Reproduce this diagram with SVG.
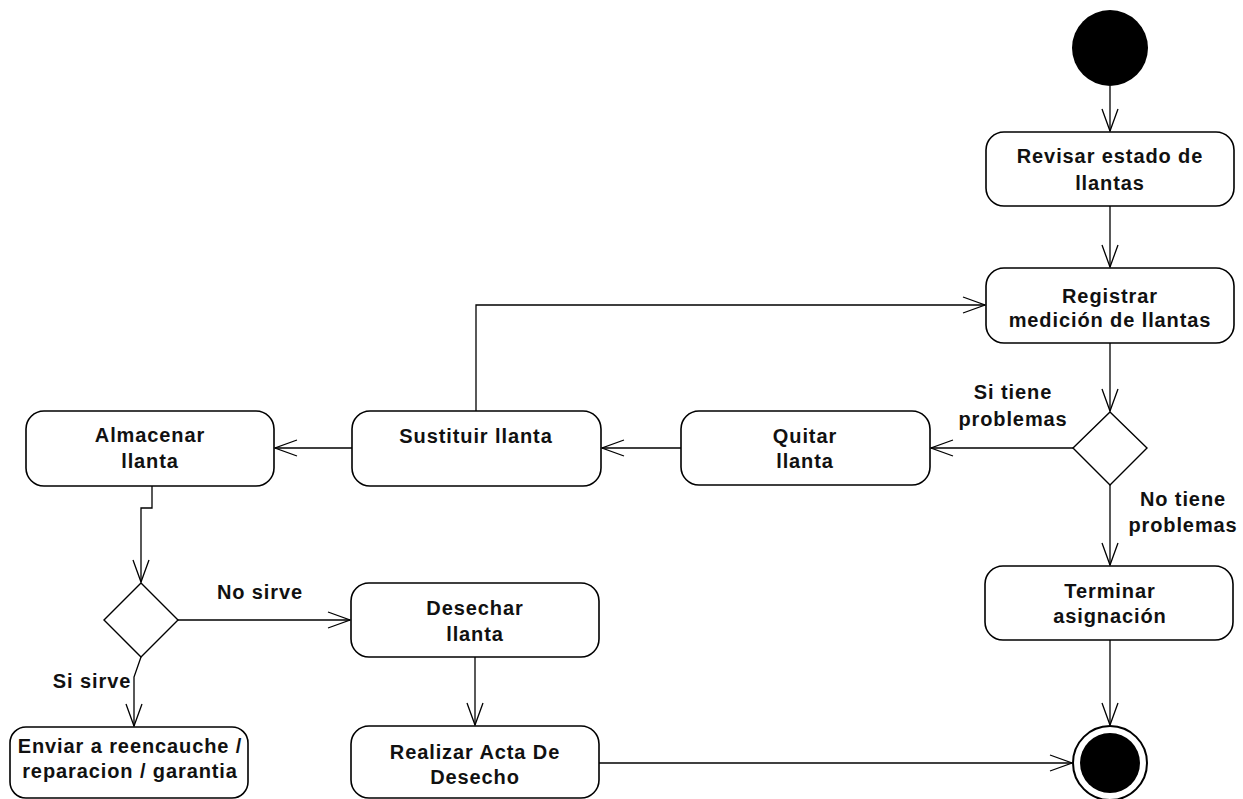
<svg xmlns="http://www.w3.org/2000/svg" width="1243" height="799" viewBox="0 0 1243 799">
<style>
.box{fill:#fff;stroke:#000;stroke-width:1.6}
.dec{fill:#fff;stroke:#000;stroke-width:1.4}
.t{font-family:"Liberation Sans",Arial,sans-serif;font-weight:bold;font-size:20px;letter-spacing:0.9px;fill:#111;text-anchor:middle}
.c{fill:none;stroke:#000;stroke-width:1.3;marker-end:url(#arr)}
</style>
<defs>
<marker id="arr" markerUnits="userSpaceOnUse" markerWidth="30" markerHeight="20" refX="23" refY="9" orient="auto" viewBox="0 0 30 20">
<path d="M1,1 L23,9 L1,17" fill="none" stroke="#000" stroke-width="1.3"/>
</marker>
</defs>
<rect width="1243" height="799" fill="#fff"/>
<g id="connectors">
<path class="c" d="M1110,86 V131"/>
<path class="c" d="M1110,206 V267"/>
<path class="c" d="M1110,343 V411"/>
<path class="c" d="M1073,448 H931"/>
<path class="c" d="M1110,485 V565"/>
<path class="c" d="M1110,640 V725"/>
<path class="c" d="M681,448 H602"/>
<path class="c" d="M352,448 H275"/>
<path class="c" d="M476,411 V305 H985"/>
<path class="c" d="M152,486 V508 H141 V582"/>
<path class="c" d="M178,620 H350"/>
<path class="c" d="M141,657 L134,677 V726"/>
<path class="c" d="M475,657 V725"/>
<path class="c" d="M599,763 H1072"/>
</g>
<g id="labels">
<text class="t" x="1013" y="399">Si tiene</text>
<text class="t" x="1013" y="426">problemas</text>
<text class="t" x="1183" y="506">No tiene</text>
<text class="t" x="1183" y="532">problemas</text>
<text class="t" x="260" y="599">No sirve</text>
<text class="t" x="92" y="688">Si sirve</text>
</g>
<g id="start"><circle cx="1110" cy="48" r="38" fill="#000"/></g>
<g id="revisar">
<rect class="box" x="986" y="132" width="248" height="74" rx="18"/>
<text class="t" x="1110" y="163">Revisar estado de</text>
<text class="t" x="1110" y="190">llantas</text>
</g>
<g id="registrar">
<rect class="box" x="986" y="268" width="248" height="75" rx="18"/>
<text class="t" x="1110" y="303">Registrar</text>
<text class="t" x="1110" y="327">medición de llantas</text>
</g>
<g id="decision1"><polygon class="dec" points="1110,412 1147,448 1110,485 1073,448"/></g>
<g id="terminar">
<rect class="box" x="985" y="566" width="248" height="74" rx="18"/>
<text class="t" x="1110" y="598">Terminar</text>
<text class="t" x="1110" y="623">asignación</text>
</g>
<g id="quitar">
<rect class="box" x="681" y="411" width="249" height="74" rx="18"/>
<text class="t" x="805" y="443">Quitar</text>
<text class="t" x="805" y="468">llanta</text>
</g>
<g id="sustituir">
<rect class="box" x="352" y="411" width="249" height="75" rx="18"/>
<text class="t" x="476" y="443">Sustituir llanta</text>
</g>
<g id="almacenar">
<rect class="box" x="26" y="411" width="248" height="75" rx="18"/>
<text class="t" x="150" y="442">Almacenar</text>
<text class="t" x="150" y="468">llanta</text>
</g>
<g id="decision2"><polygon class="dec" points="141,583 178,620 141,657 104,620"/></g>
<g id="desechar">
<rect class="box" x="351" y="583" width="248" height="74" rx="18"/>
<text class="t" x="475" y="615">Desechar</text>
<text class="t" x="475" y="641">llanta</text>
</g>
<g id="enviar">
<rect class="box" x="10" y="727" width="238" height="71" rx="16"/>
<text class="t" x="130" y="753">Enviar a reencauche /</text>
<text class="t" x="130" y="778">reparacion / garantia</text>
</g>
<g id="realizar">
<rect class="box" x="351" y="726" width="248" height="72" rx="18"/>
<text class="t" x="475" y="759">Realizar Acta De</text>
<text class="t" x="475" y="784">Desecho</text>
</g>
<g id="end">
<circle cx="1110" cy="763" r="37" fill="#fff" stroke="#000" stroke-width="2"/>
<circle cx="1110" cy="763" r="30" fill="#000"/>
</g>
</svg>
